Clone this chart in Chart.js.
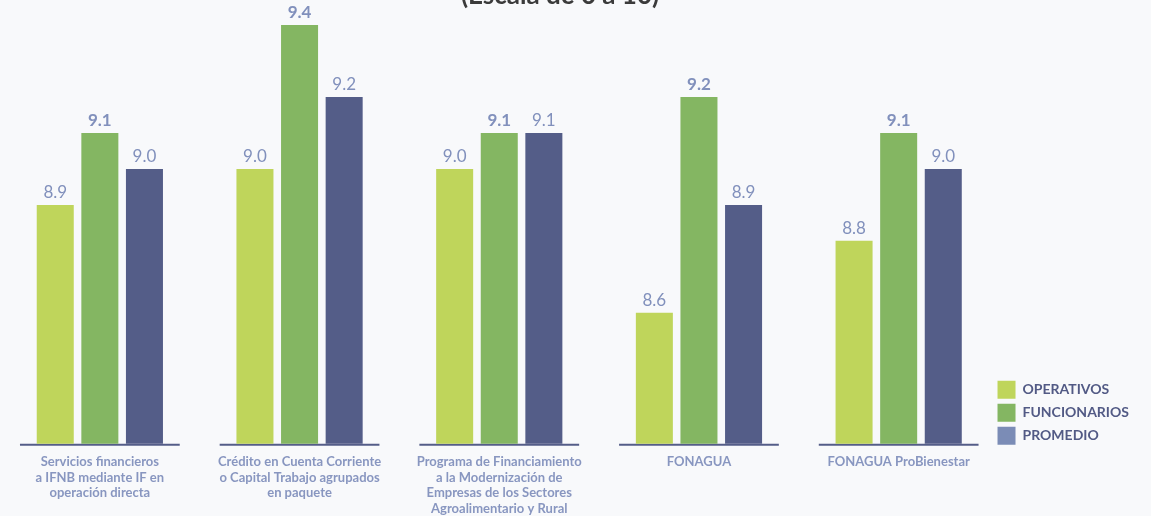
<!DOCTYPE html>
<html>
<head>
<meta charset="utf-8">
<script src="https://cdn.jsdelivr.net/npm/chart.js@4"></script>
<style>
    html, body { margin: 0; padding: 0; background: #f8f9fb; }
    #wrap { position: relative; width: 1151px; height: 516px; overflow: hidden; }
</style>
</head>
<body>
<div id="wrap"><canvas id="myChart" width="1151" height="516"></canvas></div>
<script>
'use strict';
// datos
const categorias = [
    ['Servicios financieros', 'a IFNB mediante IF en', 'operación directa'],
    ['Crédito en Cuenta Corriente', 'o Capital Trabajo agrupados', 'en paquete'],
    ['Programa de Financiamiento', 'a la Modernización de', 'Empresas de los Sectores', 'Agroalimentario y Rural'],
    'FONAGUA',
    'FONAGUA ProBienestar'
];
const operativos = [8.9, 9.0, 9.0, 8.6, 8.8];
const funcionarios = [9.1, 9.4, 9.1, 9.2, 9.1];
const promedio = [9.0, 9.2, 9.1, 8.9, 9.0];
const titulo = '(Escala de 0 a 10)';

const colOper = '#bfd55b';
const colFunc = '#84b662';
const colProm = '#545d88';
const colPromLeyenda = '#7b8cb6';
const colEtiqueta = '#8190bc';

// linea base por grupo + titulo
const lineasBase = {
    id: 'lineasBase',
    afterLayout(chart) {
        // acomodar la leyenda junto a la base
        const lg = chart.legend;
        lg.left -= 6;
        lg.right -= 6;
        lg.top += 6;
        lg.bottom += 6;
    },
    beforeDatasetsDraw(chart) {
        const ctx = chart.ctx;
        const x = chart.scales.x;
        const y = chart.scales.y;
        const paso = x.getPixelForValue(1) - x.getPixelForValue(0);
        ctx.save();
        ctx.strokeStyle = colProm;
        ctx.lineWidth = 2;
        categorias.forEach((c, i) => {
            const cx = x.getPixelForValue(i);
            ctx.beginPath();
            ctx.moveTo(cx - paso * 0.4, y.bottom + 1);
            ctx.lineTo(cx + paso * 0.4, y.bottom + 1);
            ctx.stroke();
        });
        ctx.fillStyle = '#3b3b3b';
        ctx.font = 'bold 26px Lato';
        ctx.textAlign = 'center';
        ctx.textBaseline = 'alphabetic';
        ctx.fillText(titulo, 560, 4);
        ctx.restore();
    }
};

// etiquetas de valores
const etiquetas = {
    id: 'etiquetas',
    afterDatasetsDraw(chart) {
        const ctx = chart.ctx;
        ctx.save();
        ctx.fillStyle = colEtiqueta;
        ctx.textAlign = 'center';
        ctx.textBaseline = 'bottom';
        chart.data.datasets.forEach((ds, d) => {
            ctx.font = (d == 1 ? 'bold ' : '') + '17px Lato';
            chart.getDatasetMeta(d).data.forEach((bar, i) => {
                ctx.fillText(ds.data[i].toFixed(1), bar.x, bar.y - 4);
            });
        });
        ctx.restore();
    }
};

const ctx = document.getElementById('myChart');
const myChart = new Chart(ctx.getContext('2d'), {
    type: 'bar',
    data: {
        labels: categorias,
        datasets: [
            { label: 'OPERATIVOS', data: operativos, backgroundColor: colOper },
            { label: 'FUNCIONARIOS', data: funcionarios, backgroundColor: colFunc },
            { label: 'PROMEDIO', data: promedio, backgroundColor: colProm }
        ]
    },
    options: {
        responsive: false,
        animation: false,
        datasets: {
            bar: { categoryPercentage: 0.67, barPercentage: 0.83, borderWidth: 0 }
        },
        layout: { padding: { top: 10, left: 0, right: 6, bottom: -3 } },
        plugins: {
            tooltip: { enabled: false },
            legend: {
                position: 'right',
                align: 'end',
                fullSize: false,
                labels: {
                    boxWidth: 18,
                    boxHeight: 18,
                    padding: 5,
                    color: '#525a85',
                    font: { family: 'Lato', size: 14, weight: 'bold' },
                    generateLabels(chart) {
                        const items = Chart.defaults.plugins.legend.labels.generateLabels(chart);
                        items.forEach(it => { it.lineWidth = 0; });
                        items[2].fillStyle = colPromLeyenda;
                        return items;
                    }
                }
            }
        },
        scales: {
            x: {
                grid: { display: false },
                border: { display: false },
                ticks: {
                    color: '#8896c0',
                    maxRotation: 0,
                    autoSkip: false,
                    padding: 3,
                    font: { family: 'Lato', size: 13, weight: 'bold', lineHeight: 1.18 }
                }
            },
            y: {
                display: false,
                min: 8.236,
                max: 9.442
            }
        }
    },
    plugins: [lineasBase, etiquetas]
});
</script>
</body>
</html>
